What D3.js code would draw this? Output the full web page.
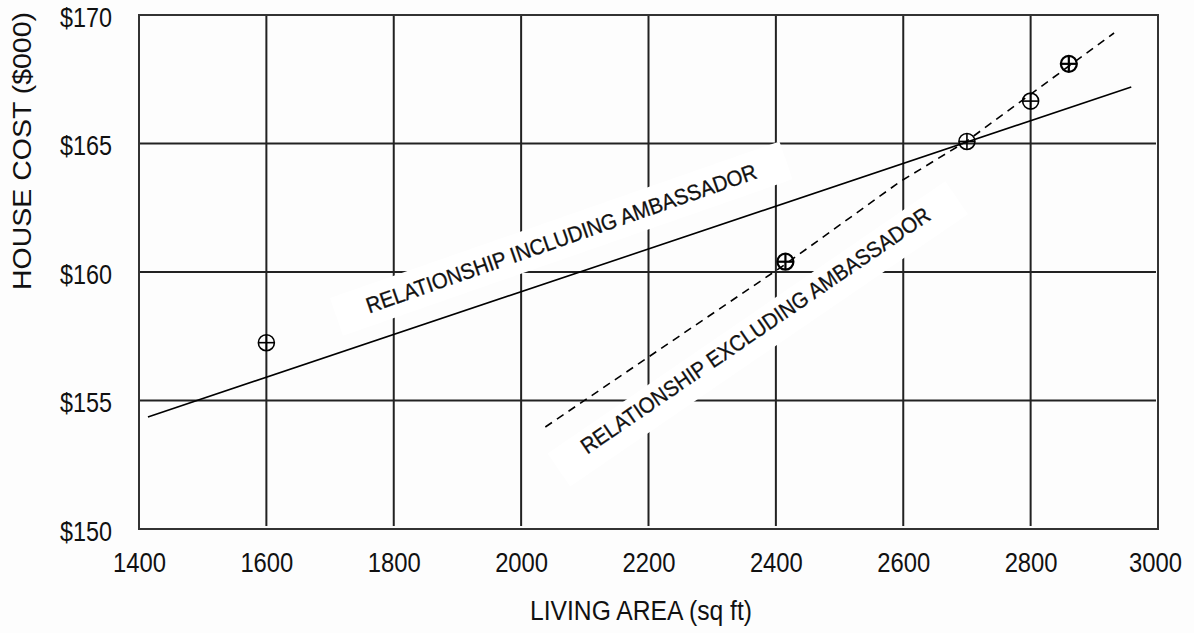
<!DOCTYPE html>
<html>
<head>
<meta charset="utf-8">
<script src="https://cdn.jsdelivr.net/npm/d3@7"></script>
<style>
  html, body { margin: 0; padding: 0; background: #fdfdfd; }
  svg { display: block; }
  text { font-family: "Liberation Sans", Arial, sans-serif; fill: #111; }
</style>
</head>
<body>
<svg id="chart" width="1194" height="633"></svg>
<script>
// ---- data ----
const xTicks = [1400, 1600, 1800, 2000, 2200, 2400, 2600, 2800, 3000];
const yTicks = [150, 155, 160, 165, 170];
const pointsX = [1600, 2415, 2700, 2800, 2860];
const pointsY = [157.25, 160.4, 165.08, 166.65, 168.1];
const pointsBold = [false, true, false, false, true];
const inclLineX = [1414, 2958];
const inclLineY = [154.36, 167.2];
const exclLineX = [2038, 2413, 2594, 2700, 2931];
const exclLineY = [153.97, 160.27, 163.5, 165.1, 169.3];
const labelTexts = ["RELATIONSHIP INCLUDING AMBASSADOR", "RELATIONSHIP EXCLUDING AMBASSADOR"];
const xTitle = "LIVING AREA (sq ft)";
const yTitle = "HOUSE COST ($000)";

// ---- layout ----
const W = 1194, H = 633;
const L = 139, R = 1158, T = 15, B = 529;
const svg = d3.select("#chart");
svg.append("rect").attr("width", W).attr("height", H).attr("fill", "#fdfdfd");

const x = d3.scaleLinear().domain([1400, 3000]).range([L, R]);
const y = d3.scaleLinear().domain([150, 170]).range([B, T]);

// grid
const grid = svg.append("g").attr("stroke", "#222").attr("stroke-width", 2);
grid.selectAll("line.v").data(xTicks.slice(1, -1)).join("line")
  .attr("x1", d => x(d)).attr("x2", d => x(d)).attr("y1", T).attr("y2", B - 3);
grid.selectAll("line.h").data(yTicks.slice(1, -1)).join("line")
  .attr("x1", L).attr("x2", R - 2).attr("y1", d => y(d)).attr("y2", d => y(d));
svg.append("rect").attr("x", L).attr("y", T).attr("width", R - L).attr("height", B - T)
  .attr("fill", "none").attr("stroke", "#333").attr("stroke-width", 2);

// label boxes (white, rotated), positioned in data coords
const labels = [
  { text: labelTexts[0], cx: x(2063), cy: y(161.3), angle: -19.2, boxOff: 0, len: 412 },
  { text: labelTexts[1], cx: x(2368), cy: y(157.72), angle: -34.4, boxOff: 4, len: 418 }
];
const lg = svg.append("g");
labels.forEach(lb => {
  const g = lg.append("g").attr("transform", `translate(${lb.cx},${lb.cy}) rotate(${lb.angle})`);
  g.append("rect").attr("x", -lb.len / 2 - 32).attr("y", -20 + lb.boxOff)
    .attr("width", lb.len + 64).attr("height", 40).attr("fill", "#ffffff");
  lb.g = g;
});

// lines
const line = d3.line().x(d => x(d[0])).y(d => y(d[1]));
svg.append("path").datum(d3.zip(inclLineX, inclLineY)).attr("d", line)
  .attr("fill", "none").attr("stroke", "#000").attr("stroke-width", 1.6);
svg.append("path").datum(d3.zip(exclLineX, exclLineY)).attr("d", line)
  .attr("fill", "none").attr("stroke", "#000").attr("stroke-width", 1.6)
  .attr("stroke-dasharray", "8,6");

// markers
const pts = d3.zip(pointsX, pointsY, pointsBold);
const mk = svg.append("g").attr("stroke", "#000").attr("fill", "none");
const r = 8;
pts.forEach(p => {
  const cx = x(p[0]), cy = y(p[1]);
  const sw = p[2] ? 2.2 : 1.6;
  mk.append("circle").attr("cx", cx).attr("cy", cy).attr("r", r).attr("stroke-width", sw);
  mk.append("line").attr("x1", cx - r).attr("x2", cx + r).attr("y1", cy).attr("y2", cy).attr("stroke-width", sw);
  mk.append("line").attr("x1", cx).attr("x2", cx).attr("y1", cy - r).attr("y2", cy + r).attr("stroke-width", sw);
});

// label texts
labels.forEach(lb => {
  lb.g.append("text").attr("text-anchor", "middle").attr("y", 7.5)
    .attr("font-size", 22).attr("textLength", lb.len).attr("lengthAdjust", "spacingAndGlyphs")
    .attr("stroke", "#111").attr("stroke-width", 0.3)
    .text(lb.text);
});

// axes
const xAxis = d3.axisBottom(x).tickValues(xTicks).tickSize(0).tickFormat(d3.format("d"));
const gx = svg.append("g").attr("transform", `translate(0,${B})`).call(xAxis);
gx.select(".domain").remove();
gx.selectAll("text").attr("y", 43).attr("dy", 0).attr("font-size", 28)
  .attr("textLength", 53).attr("lengthAdjust", "spacingAndGlyphs")
  .attr("font-family", "Liberation Sans, Arial, sans-serif").attr("fill", "#111")
  .attr("x", d => d === 3000 ? -3 : 0);

const yAxis = d3.axisLeft(y).tickValues(yTicks).tickSize(0).tickFormat(d => "$" + d);
const gy = svg.append("g").attr("transform", `translate(${L},0)`).call(yAxis);
gy.select(".domain").remove();
gy.selectAll("text").attr("x", -27).attr("dy", 0).attr("y", 11).attr("font-size", 28)
  .attr("textLength", 52).attr("lengthAdjust", "spacingAndGlyphs")
  .attr("font-family", "Liberation Sans, Arial, sans-serif").attr("fill", "#111");

// titles
svg.append("text").attr("x", 641).attr("y", 620).attr("text-anchor", "middle")
  .attr("font-size", 27).attr("textLength", 222).attr("lengthAdjust", "spacingAndGlyphs")
  .text(xTitle);
svg.append("text").attr("transform", "translate(31,151) rotate(-90)").attr("text-anchor", "middle")
  .attr("font-size", 26).attr("textLength", 278).attr("lengthAdjust", "spacingAndGlyphs")
  .text(yTitle);
</script>
</body>
</html>
